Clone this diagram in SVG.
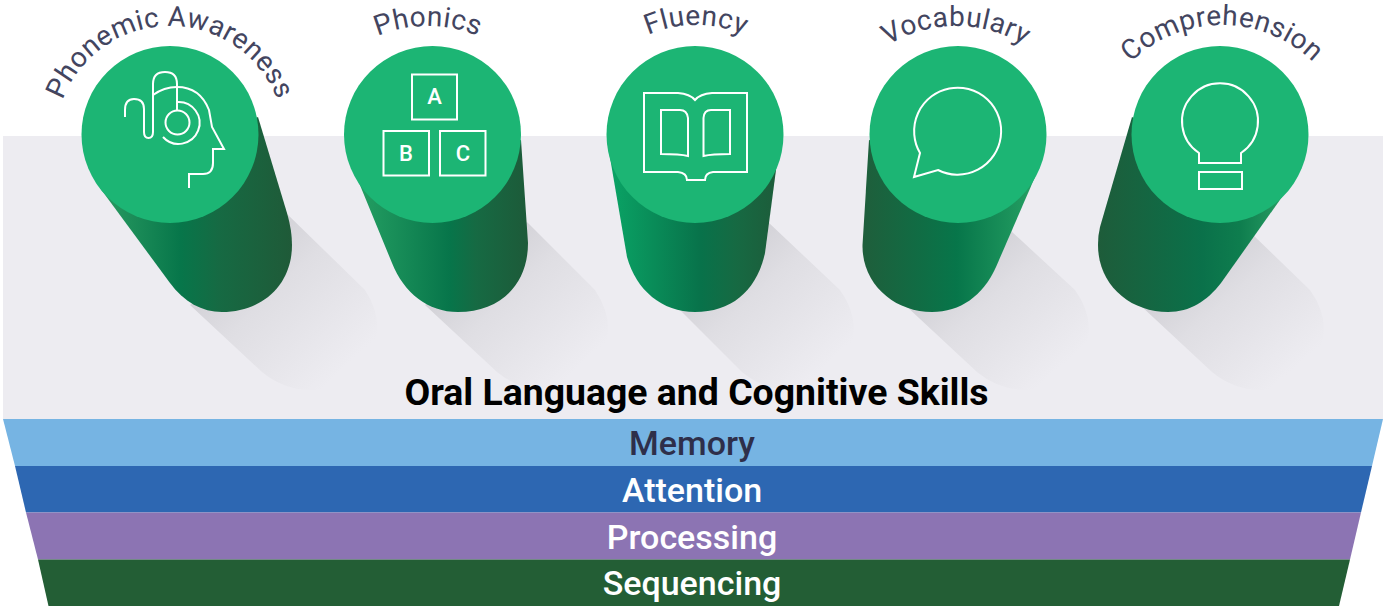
<svg xmlns="http://www.w3.org/2000/svg" width="1383" height="607" viewBox="0 0 1383 607">
<style>
.top{fill:#1cb574}
.ico{fill:none;stroke:#fff;stroke-width:2;stroke-linejoin:miter}
.lbl{font-family:Roboto,"Liberation Sans",sans-serif;font-size:28px;fill:#43455f;letter-spacing:.4px;text-anchor:middle}
.band{font-family:Roboto,"Liberation Sans",sans-serif;font-size:34px;font-weight:500;text-anchor:middle;fill:#fff}
.blk{font-family:Roboto,"Liberation Sans",sans-serif;font-size:22px;font-weight:500;text-anchor:middle;fill:#fff}
</style>
<defs>
<linearGradient id="g1" gradientUnits="userSpaceOnUse" x1="100" x2="292" y1="0" y2="0"><stop offset="0" stop-color="#2a9c62"/><stop offset=".42" stop-color="#07764a"/><stop offset=".62" stop-color="#166a43"/><stop offset="1" stop-color="#1f5a38"/></linearGradient>
<linearGradient id="g2" gradientUnits="userSpaceOnUse" x1="355" x2="528" y1="0" y2="0"><stop offset="0" stop-color="#25a063"/><stop offset=".55" stop-color="#07754a"/><stop offset=".7" stop-color="#166a43"/><stop offset="1" stop-color="#1d5a39"/></linearGradient>
<linearGradient id="g3" gradientUnits="userSpaceOnUse" x1="607" x2="778" y1="0" y2="0"><stop offset="0" stop-color="#0aa566"/><stop offset=".55" stop-color="#08724a"/><stop offset=".75" stop-color="#166a43"/><stop offset="1" stop-color="#1d5c3a"/></linearGradient>
<linearGradient id="g4" gradientUnits="userSpaceOnUse" x1="862" x2="1035" y1="0" y2="0"><stop offset="0" stop-color="#1f5e3b"/><stop offset=".55" stop-color="#07764a"/><stop offset="1" stop-color="#25a063"/></linearGradient>
<linearGradient id="g5" gradientUnits="userSpaceOnUse" x1="1098" x2="1287" y1="0" y2="0"><stop offset="0" stop-color="#1e5c3a"/><stop offset=".55" stop-color="#0a714a"/><stop offset=".75" stop-color="#0e7d4e"/><stop offset="1" stop-color="#2aa065"/></linearGradient>
<linearGradient id="sh" gradientUnits="objectBoundingBox" x1="0" y1="0" x2="1" y2="1"><stop offset=".1" stop-color="#c9c8ce"/><stop offset=".45" stop-color="#dfdee3"/><stop offset=".85" stop-color="#edecf1"/></linearGradient>
<path id="a1" d="M55 141A115 115 0 0 1 285 141"/>
<path id="a2" d="M298 156A130 130 0 0 1 558 156"/>
<path id="a3" d="M576 145A120 120 0 0 1 816 145"/>
<path id="a4" d="M826 156A130 130 0 0 1 1086 156"/>
<path id="a5" d="M1092 155A130 130 0 0 1 1352 155"/>
</defs>
<rect id="panel" x="3" y="136" width="1380" height="283" fill="#edecf1"/>
<g id="shadows" fill="url(#sh)">
<path d="M190 305L262 372Q285 391 315 390Q350 388 368 360Q388 325 365 290L285 212L240 270Z"/>
<path d="M425 305L497 372Q520 391 550 390Q590 388 605 350Q615 320 595 290L527 222L480 270Z"/>
<path d="M670 300L742 372Q765 391 795 390Q830 388 845 360Q865 325 840 290L768 222L720 270Z"/>
<path d="M905 305L977 372Q1000 391 1030 390Q1065 388 1080 360Q1100 325 1075 290L1010 230L960 270Z"/>
<path d="M1140 305L1212 372Q1235 391 1265 390Q1300 388 1315 360Q1335 325 1310 290L1250 232L1200 270Z"/>
</g>
<g id="n1"><path fill="url(#g1)" d="M100 188L170 283C184 302 202 312 222 312C262 312 292 285 292 245Q292 230 287 213L258 117Z"/><circle class="top" cx="170" cy="134.500" r="88.500"/>
<path class="ico" d="M125 117V110Q125 99 134 99Q144 99 144 109V132Q144 138 148.500 138Q153 138 153 132V84Q153 72 165 72Q177 72 177 84V110"/>
<circle class="ico" cx="177.500" cy="122.500" r="12"/>
<path class="ico" d="M177 102A21 21 0 1 1 163 137"/>
<path class="ico" d="M153 95Q164 87 177 87Q200 87 209 110L212 127L224 149H213V163Q213 174 203 174H189V188"/>
<text class="lbl"><textPath href="#a1" startOffset="50%">Phonemic Awareness</textPath></text></g>
<g id="n2"><path fill="url(#g2)" d="M355 173L392 263C404 293 428 312 458 312C500 312 528 285 528 243L521 140Z"/><circle class="top" cx="432.500" cy="134.500" r="88.500"/>
<rect class="ico" x="412" y="74.500" width="45" height="45"/><rect class="ico" x="383.500" y="131" width="45.500" height="44.500"/><rect class="ico" x="440" y="131" width="45.500" height="44.500"/>
<text class="blk" x="434.500" y="104">A</text><text class="blk" x="406" y="161">B</text><text class="blk" x="463" y="161">C</text>
<text class="lbl"><textPath href="#a2" startOffset="50%">Phonics</textPath></text></g>
<g id="n3"><path fill="url(#g3)" d="M607 140L627 257C636 290 662 312 695 312C732 312 757 290 765 253L776 170Z"/><circle class="top" cx="695" cy="134.500" r="88.500"/>
<path class="ico" d="M644 93H678Q690 94 695 100Q700 94 712 93H747V172H713Q705 173 705 180H687Q687 173 678 172H644Z"/>
<path class="ico" d="M661 110H680Q687 110 688 118V156Q680 154 661 154Z"/><path class="ico" d="M730 110H711Q704 110 703.500 118V156Q712 154 730 154Z"/>
<text class="lbl"><textPath href="#a3" startOffset="50%">Fluency</textPath></text></g>
<g id="n4"><path fill="url(#g4)" d="M869 140L862.500 245C862 285 895 312 932 312C960 312 983 296 996 267L1035 177Z"/><circle class="top" cx="958" cy="134.500" r="88.500"/>
<path class="ico" d="M920 153L914 177L938 170A43.500 43.500 0 1 0 920 153Z"/>
<text class="lbl"><textPath href="#a4" startOffset="50%">Vocabulary</textPath></text></g>
<g id="n5"><path fill="url(#g5)" d="M1132 117L1100 227Q1098 235 1098 245C1098 285 1130 312 1168 312C1190 312 1207 301 1221 283L1282 197Z"/><circle class="top" cx="1220" cy="134.500" r="88.500"/>
<path class="ico" d="M1199 153V163H1241V153A38 38 0 1 0 1199 153Z"/><rect class="ico" x="1199" y="172" width="43" height="17"/>
<text class="lbl"><textPath href="#a5" startOffset="50%">Comprehension</textPath></text></g>
<text id="title" x="696.500" y="405" font-family="Roboto,'Liberation Sans',sans-serif" font-size="37.400" font-weight="700" text-anchor="middle" fill="#000">Oral Language and Cognitive Skills</text>
<g id="memory"><path fill="#76b4e3" d="M3 419H1383L1372 466H15Z"/><text class="band" x="692" y="455" style="fill:#2e2f4a">Memory</text></g>
<g id="attention"><path fill="#2d67b2" d="M15 466H1372L1361 512.500H26Z"/><text class="band" x="692" y="502">Attention</text></g>
<g id="processing"><path fill="#8c74b3" d="M26 512.500H1361L1350 559.500H38Z"/><text class="band" x="692" y="549">Processing</text></g>
<g id="sequencing"><path fill="#235e35" d="M38 559.500H1350L1339 606H48.500Z"/><text class="band" x="692" y="595">Sequencing</text></g>
</svg>
